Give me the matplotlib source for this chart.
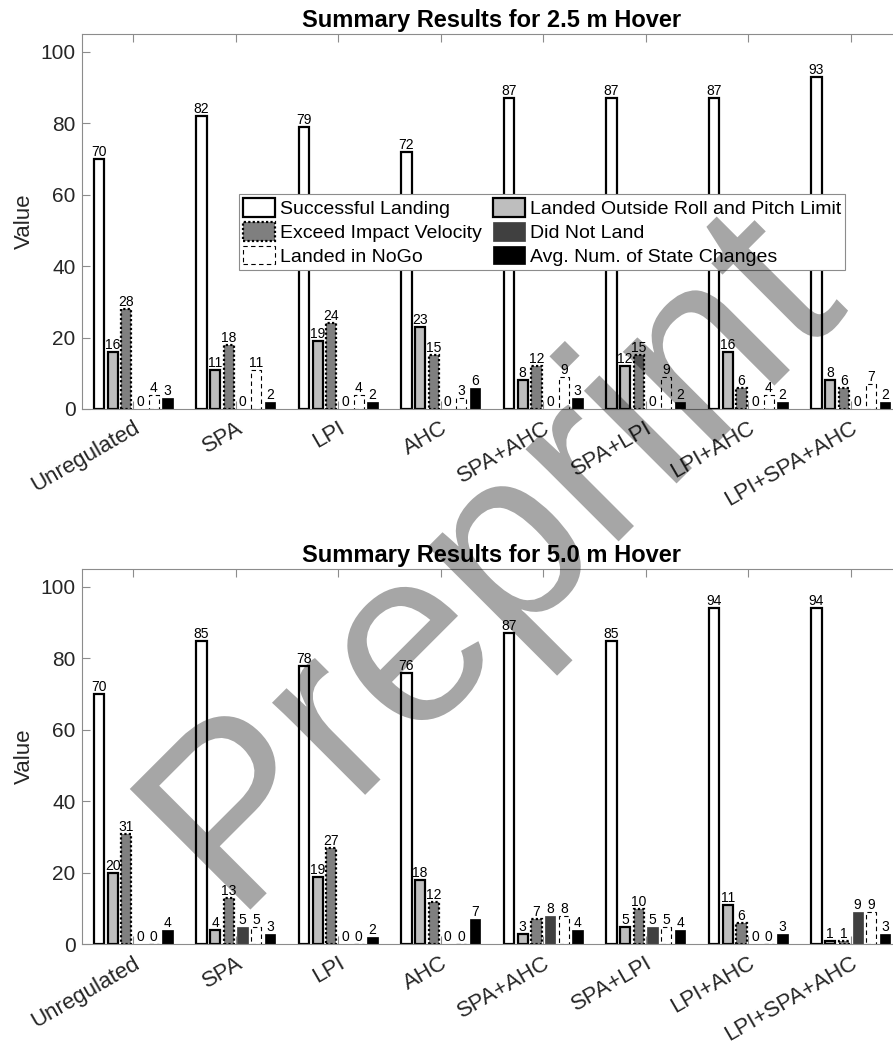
import numpy as np
import matplotlib
matplotlib.use("Agg")
import matplotlib.pyplot as plt
from matplotlib.textpath import TextPath
from matplotlib.patches import PathPatch
from matplotlib.font_manager import FontProperties
from matplotlib.transforms import Affine2D, IdentityTransform

plt.rcParams['font.family'] = ['Liberation Sans', 'DejaVu Sans']

controllers = ["Unregulated", "SPA", "LPI", "AHC", "SPA+AHC", "SPA+LPI", "LPI+AHC", "LPI+SPA+AHC"]
outcomes = ["Successful Landing", "Landed Outside Roll and Pitch Limit",
            "Exceed Impact Velocity", "Did Not Land", "Landed in NoGo",
            "Avg. Num. of State Changes"]

# 2.5 m hover
h25_success = [70, 82, 79, 72, 87, 87, 87, 93]
h25_roll_pitch = [16, 11, 19, 23, 8, 12, 16, 8]
h25_impact = [28, 18, 24, 15, 12, 15, 6, 6]
h25_no_land = [0, 0, 0, 0, 0, 0, 0, 0]
h25_nogo = [4, 11, 4, 3, 9, 9, 4, 7]
h25_changes = [3, 2, 2, 6, 3, 2, 2, 2]

# 5.0 m hover
h50_success = [70, 85, 78, 76, 87, 85, 94, 94]
h50_roll_pitch = [20, 4, 19, 18, 3, 5, 11, 1]
h50_impact = [31, 13, 27, 12, 7, 10, 6, 1]
h50_no_land = [0, 5, 0, 0, 8, 5, 0, 9]
h50_nogo = [0, 5, 0, 0, 8, 5, 0, 9]
h50_changes = [4, 3, 2, 7, 4, 4, 3, 3]

styles = [
    dict(facecolor='white', edgecolor='black', linewidth=1.6),
    dict(facecolor='#bebebe', edgecolor='black', linewidth=1.6),
    dict(facecolor='#7f7f7f', edgecolor='black', linewidth=1.6, linestyle=(0, (1, 1))),
    dict(facecolor='#404040', edgecolor='#404040', linewidth=0.5),
    dict(facecolor='white', edgecolor='black', linewidth=0.8, linestyle=(0, (4, 3))),
    dict(facecolor='black', edgecolor='black', linewidth=0.5),
]

pitch = 0.134
width = 0.1
grey = '0.55'
dark = '#262626'


def draw_panel(ax, series, title, legend=False):
    x = np.arange(1, len(controllers) + 1)
    bars = []
    for j, (vals, st) in enumerate(zip(series, styles)):
        xs = x + (j - 2.5) * pitch
        b = ax.bar(xs, vals, width, label=outcomes[j], **st)
        bars.append(b)
        for xi, v in zip(xs, vals):
            ax.text(xi, v, str(v), ha='center', va='bottom', fontsize=10)
    ax.set_xlim(0.5, 8.5)
    ax.set_ylim(0, 105)
    ax.set_yticks([0, 20, 40, 60, 80, 100])
    ax.set_xticks(x)
    ax.set_xticklabels(controllers, rotation=30, ha='right', rotation_mode='anchor')
    ax.tick_params(axis='both', direction='in', length=5.8, width=0.8, color=grey,
                   labelsize=15, labelcolor=dark, top=True, right=True)
    ax.tick_params(axis='x', pad=6, labelsize=16)
    ax.tick_params(axis='y', pad=4.5)
    for s in ax.spines.values():
        s.set_color(grey)
        s.set_linewidth(0.8)
    ax.set_ylabel('Value', fontsize=16, color=dark)
    ax.set_title(title, fontsize=17, fontweight='bold', pad=5)
    if legend:
        order = [0, 2, 4, 1, 3, 5]
        leg = ax.legend([bars[i] for i in order], [outcomes[i] for i in order],
                        ncol=2, loc='upper left', bbox_to_anchor=(0.1915, 0.573),
                        borderaxespad=0, fontsize=14, handlelength=1.65,
                        handleheight=1.1, handletextpad=0.25, labelspacing=0.2,
                        columnspacing=0.6, borderpad=0.2, fancybox=False,
                        framealpha=1)
        leg.get_frame().set_edgecolor(grey)
        leg.get_frame().set_linewidth(0.8)


fig = plt.figure(figsize=(8.93, 10.5), dpi=100)
ax1 = fig.add_axes([0.0918, 0.6105, 0.9183, 0.3571])
ax2 = fig.add_axes([0.0918, 0.1005, 0.9183, 0.3576])

draw_panel(ax1, [h25_success, h25_roll_pitch, h25_impact, h25_no_land, h25_nogo, h25_changes],
           'Summary Results for 2.5 m Hover', legend=True)
draw_panel(ax2, [h50_success, h50_roll_pitch, h50_impact, h50_no_land, h50_nogo, h50_changes],
           'Summary Results for 5.0 m Hover')

# diagonal "Preprint" stamp across both panels (pixel coordinates)
fp = FontProperties(family='Liberation Sans')
tp = TextPath((0, 0), 'Preprint', size=248, prop=fp)
tr = Affine2D().rotate_deg(45).translate(236, 1050 - 924)
stamp = PathPatch(tr.transform_path(tp), facecolor='black', edgecolor='none',
                  alpha=0.35, transform=IdentityTransform(), zorder=10)
fig.add_artist(stamp)

fig.savefig('out.png', dpi=100)
